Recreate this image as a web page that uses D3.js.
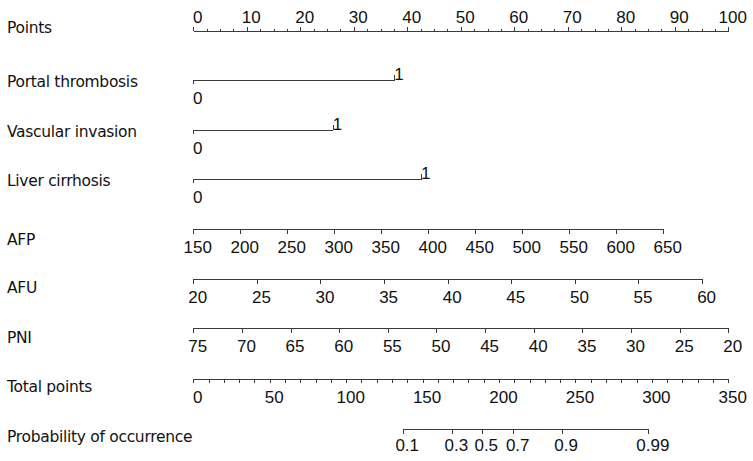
<!DOCTYPE html>
<meta charset="utf-8">
<style>
body { margin: 0; background: #fff; }
svg { display: block; }
.lab { font-family: "DejaVu Sans", Verdana, sans-serif; font-size: 15.5px; letter-spacing: -0.3px; fill: #111; }
.axis path, .axis line { stroke: #3a3a3a; stroke-width: 1; shape-rendering: crispEdges; }
</style>
<body>
<svg id="chart" width="753" height="461"></svg>
<script src="https://cdn.jsdelivr.net/npm/d3@7"></script>
<script>
// variable names down the left side
var rowLabels = ["Points", "Portal thrombosis", "Vascular invasion", "Liver cirrhosis",
                 "AFP", "AFU", "PNI", "Total points", "Probability of occurrence"];

// binary predictors: points given for value 1
var binaryNames = ["Portal thrombosis", "Vascular invasion", "Liver cirrhosis"];
var binaryPoints = [37.6, 26.1, 42.6];

// continuous predictors
var afpTicks = [150, 200, 250, 300, 350, 400, 450, 500, 550, 600, 650];
var afpPoints = [0, 87.85];          // points at 150 and 650
var afuTicks = [20, 25, 30, 35, 40, 45, 50, 55, 60];
var afuPoints = [0, 95.1];           // points at 20 and 60
var pniTicks = [75, 70, 65, 60, 55, 50, 45, 40, 35, 30, 25, 20];
var pniPoints = [0, 100];            // points at 75 and 20

var pointTicks = [0, 10, 20, 30, 40, 50, 60, 70, 80, 90, 100];
var totalTicks = [0, 50, 100, 150, 200, 250, 300, 350];

// probability scale: labels and the total points where they sit
var probLabels = ["0.1", "0.3", "0.5", "0.7", "0.9", "0.99"];
var probTotal = [137.0, 169.2, 188.7, 209.3, 241.0, 297.7];

var rowY = [31, 80, 130, 179.3, 229.3, 279.3, 328.3, 379.3, 429];
var labelBase = [33, 87, 137, 186, 245, 293, 343, 392, 442];

var svg = d3.select("#chart");
var x0 = 193.3, x1 = 728.3;
var ptsX = d3.scaleLinear().domain([0, 100]).range([x0, x1]);
var totX = d3.scaleLinear().domain([0, 350]).range([x0, x1]);

svg.selectAll("text.lab")
    .data(rowLabels)
  .enter().append("text")
    .attr("class", "lab")
    .attr("x", 7)
    .attr("y", function(d, i) { return labelBase[i]; })
    .text(function(d) { return d; });

// draw an axis line with ticks; labels placed on a given baseline offset
function axis(y, scale, values, labels, side, tickLen, baseOff, keepDomain) {
  var ax = (side === "top" ? d3.axisTop(scale) : d3.axisBottom(scale))
      .tickValues(values)
      .tickSize(tickLen)
      .tickSizeOuter(0)
      .tickFormat(function(d, i) { return labels ? labels[i] : ""; });
  var g = svg.append("g")
      .attr("class", "axis")
      .attr("transform", "translate(0," + y + ")")
      .call(ax)
      .attr("font-family", "'Liberation Sans', Arial, sans-serif")
      .attr("font-size", 17);
  g.selectAll("text")
      .style("font-family", "'Liberation Sans', Arial, sans-serif")
      .style("font-size", "17px")
      .style("fill", "#111")
      .attr("y", baseOff)
      .attr("dy", 0)
      .attr("dx", 4)
      .attr("text-anchor", "middle");
  if (!keepDomain) g.select(".domain").remove();
  return g;
}

// Points
axis(rowY[0], ptsX, d3.range(0, 100.01, 2.5), null, "top", 2.5, 0, true);
axis(rowY[0], ptsX, pointTicks, pointTicks.map(String), "top", 4.5, -8, false);

// binary rows
binaryNames.forEach(function(name, i) {
  var s = d3.scaleLinear().domain([0, 1]).range([x0, ptsX(binaryPoints[i])]);
  axis(rowY[i + 1], s, [0], ["0"], "bottom", 4, 23.5, true);
  axis(rowY[i + 1], s, [1], ["1"], "top", 5, 0, false);
});

// continuous rows
function contRow(row, ticks, pts) {
  var s = d3.scaleLinear()
      .domain([ticks[0], ticks[ticks.length - 1]])
      .range([ptsX(pts[0]), ptsX(pts[1])]);
  axis(rowY[row], s, ticks, ticks.map(String), "bottom", 4.5, 24, true);
}
contRow(4, afpTicks, afpPoints);
contRow(5, afuTicks, afuPoints);
contRow(6, pniTicks, pniPoints);

// Total points
axis(rowY[7], totX, d3.range(0, 350.01, 10), null, "bottom", 3.5, 0, true);
axis(rowY[7], totX, totalTicks, totalTicks.map(String), "bottom", 4, 24, false);

// Probability
var pS = d3.scaleLinear()
    .domain([probTotal[0], probTotal[probTotal.length - 1]])
    .range([totX(probTotal[0]), totX(probTotal[probTotal.length - 1])]);
axis(rowY[8], pS, probTotal, probLabels, "bottom", 4.5, 22, true);
</script>
</body>
